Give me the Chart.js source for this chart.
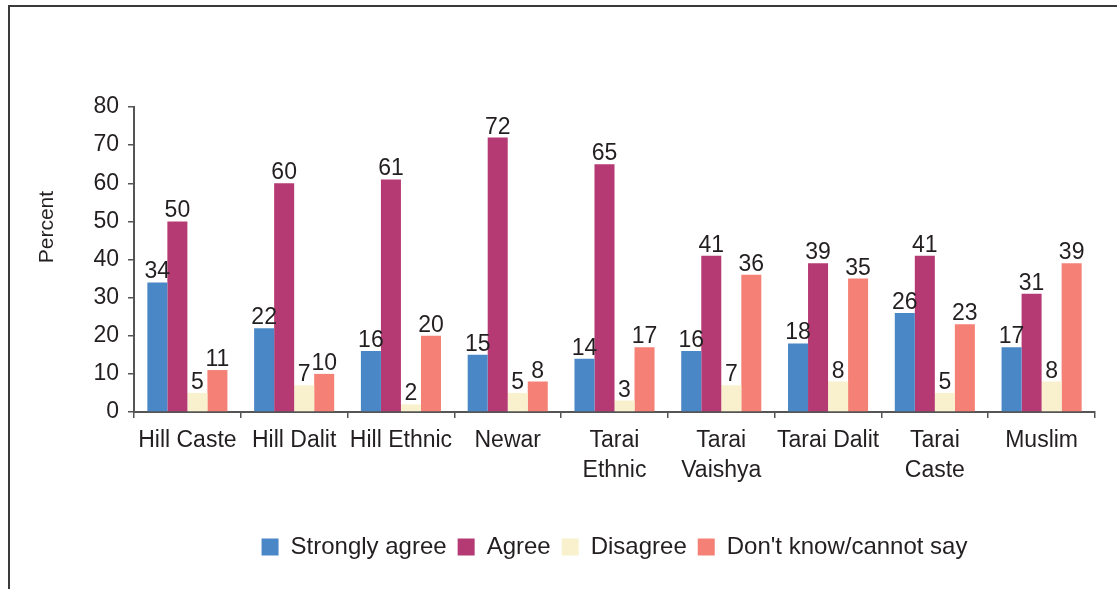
<!DOCTYPE html>
<html>
<head>
<meta charset="utf-8">
<script src="https://cdn.jsdelivr.net/npm/chart.js@4/dist/chart.umd.min.js"></script>
<style>
  html, body { margin: 0; padding: 0; background: #ffffff; }
  #wrap { position: relative; width: 1117px; height: 589px; overflow: hidden; }
  #wrap canvas { position: absolute; left: 0; top: 0; }
  /* open frame around the figure: top and left edges only */
  #frame {
    position: absolute; left: 8px; top: 5px; width: 1300px; height: 800px;
    border-top: 2px solid #3a3a3a; border-left: 2px solid #3a3a3a;
    pointer-events: none;
  }
</style>
</head>
<body>
<div id="wrap">
  <canvas id="chart" width="1117" height="589"></canvas>
  <div id="frame"></div>
</div>
<script>
// Caste / ethnic groups along the x axis
const categories = [
  'Hill Caste', 'Hill Dalit', 'Hill Ethnic', 'Newar',
  ['Tarai', 'Ethnic'], ['Tarai', 'Vaishya'], 'Tarai Dalit', ['Tarai', 'Caste'], 'Muslim'
];

// Responses, percent of each group
const stronglyAgree = [34, 22, 16, 15, 14, 16, 18, 26, 17];
const agree         = [50, 60, 61, 72, 65, 41, 39, 41, 31];
const disagree      = [5, 7, 2, 5, 3, 7, 8, 5, 8];
const dontKnow      = [11, 10, 20, 8, 17, 36, 35, 23, 39];

const seriesNames = ['Strongly agree', 'Agree', 'Disagree', "Don't know/cannot say"];

// y axis range and step
const yMin = 0;
const yMax = 80;
const yStep = 10;
const yTitle = 'Percent';

const FONT = '"Liberation Sans", Arial, Helvetica, sans-serif';
const TEXT = '#231f20';
const AXIS = '#555555';

// Writes each bar's value just above it
const valueLabels = {
  id: 'valueLabels',
  afterDatasetsDraw(chart) {
    const ctx = chart.ctx;
    ctx.save();
    ctx.font = '23px ' + FONT;
    ctx.fillStyle = TEXT;
    ctx.textAlign = 'center';
    ctx.textBaseline = 'alphabetic';
    chart.data.datasets.forEach((ds, i) => {
      const meta = chart.getDatasetMeta(i);
      meta.data.forEach((bar, j) => {
        ctx.fillText(String(ds.data[j]), bar.x, bar.y - 4);
      });
    });
    ctx.restore();
  }
};

// Rotated y-axis title, set a little above the axis middle
const yAxisTitle = {
  id: 'yAxisTitle',
  afterDraw(chart) {
    const ctx = chart.ctx;
    const y = chart.scales.y;
    ctx.save();
    ctx.font = '21px ' + FONT;
    ctx.fillStyle = TEXT;
    ctx.textAlign = 'center';
    ctx.textBaseline = 'middle';
    ctx.translate(47, y.getPixelForValue(48.5));
    ctx.rotate(-Math.PI / 2);
    ctx.fillText(yTitle, 0, 0);
    ctx.restore();
  }
};

new Chart(document.getElementById('chart'), {
  type: 'bar',
  data: {
    labels: categories,
    datasets: [
      { label: seriesNames[0], data: stronglyAgree, backgroundColor: '#4a87c6' },
      { label: seriesNames[1], data: agree,         backgroundColor: '#b53a73' },
      { label: seriesNames[2], data: disagree,      backgroundColor: '#f9f1cd' },
      { label: seriesNames[3], data: dontKnow,      backgroundColor: '#f58076' }
    ]
  },
  options: {
    responsive: false,
    devicePixelRatio: 1,
    animation: false,
    datasets: {
      bar: { categoryPercentage: 0.75, barPercentage: 1.0, borderWidth: 0 }
    },
    layout: { padding: { left: 0, right: 22, top: 107, bottom: 20 } },
    plugins: {
      tooltip: { enabled: false },
      legend: {
        position: 'bottom',
        fullSize: false,
        labels: {
          boxWidth: 17,
          boxHeight: 17,
          padding: 11,
          color: TEXT,
          font: { family: FONT, size: 24 }
        }
      }
    },
    scales: {
      x: {
        afterFit(scale) { scale.height = 112; },
        border: { display: true, color: AXIS, width: 2 },
        grid: { offset: true, drawOnChartArea: false, drawTicks: true, tickLength: 6, color: AXIS, lineWidth: 1.5 },
        ticks: {
          autoSkip: false, maxRotation: 0, minRotation: 0, padding: 8,
          color: TEXT, font: { family: FONT, size: 23, lineHeight: 1.3 }
        }
      },
      y: {
        min: yMin,
        max: yMax,
        afterFit(scale) { scale.width = 134; },
        border: { display: true, color: AXIS, width: 2 },
        grid: { drawOnChartArea: false, drawTicks: true, tickLength: 6, color: AXIS, lineWidth: 1.5 },
        ticks: {
          stepSize: yStep, padding: 9,
          color: TEXT, font: { family: FONT, size: 23 }
        }
      }
    }
  },
  plugins: [valueLabels, yAxisTitle]
});
</script>
</body>
</html>
